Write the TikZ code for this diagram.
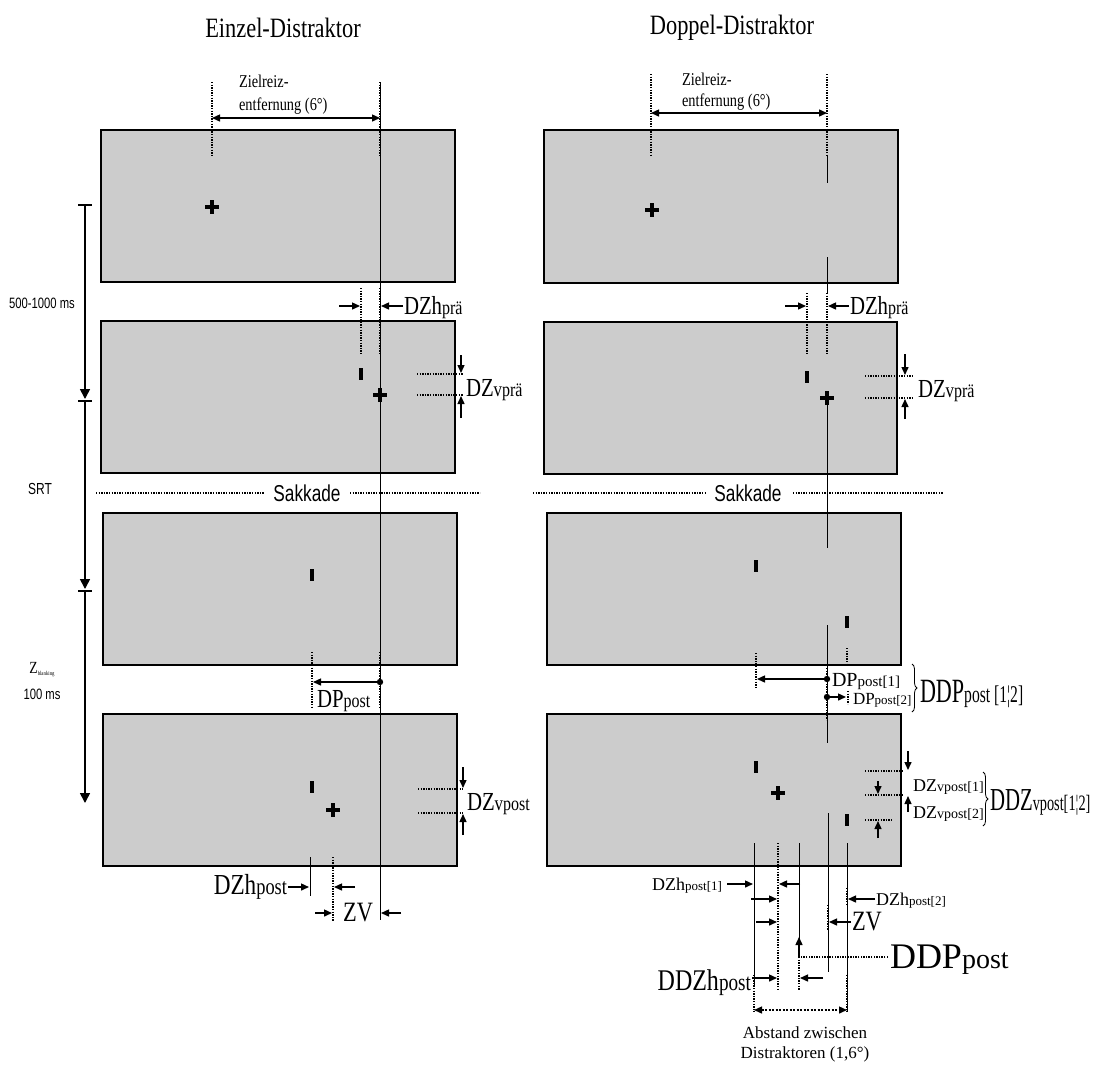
\documentclass[tikz,border=0pt]{standalone}
\usepackage{fontspec}
\setmainfont{Liberation Serif}
\newfontfamily\cs[FakeStretch=0.8]{Liberation Serif}
\newfontfamily\csn[FakeStretch=0.65]{Liberation Serif}
\newfontfamily\ssf[FakeStretch=0.75]{Liberation Sans}
\usetikzlibrary{arrows.meta,decorations.pathreplacing}
\definecolor{boxgray}{gray}{0.8}
\newcommand\fsz[1]{\fontsize{#1}{#1}\selectfont}
\newcommand\mycross[2]{\fill (#1,#2) ++(-7,-2.2) rectangle ++(14,4.4); \fill (#1,#2) ++(-2.2,-7) rectangle ++(4.4,14);}
\newcommand\mydist[2]{\fill (#1,#2) ++(-2.3,-6.2) rectangle ++(4.6,12.4);}
\begin{document}
\begin{tikzpicture}[x=1pt,y=-1pt,
  box/.style={draw=black,line width=2pt,fill=boxgray},
  thinl/.style={line width=0.8pt},
  dots/.style={line width=1.7pt,dash pattern=on 1.4pt off 1.2pt},
  arr/.style={line width=1.4pt,-{Triangle[length=8pt,width=7pt]}},
  darr/.style={line width=1.4pt,{Triangle[length=8pt,width=7pt]}-{Triangle[length=8pt,width=7pt]}},
  tarr/.style={line width=1.6pt,-{Triangle[length=10pt,width=10pt]}},
  lbl/.style={inner sep=0pt,outer sep=0pt},
  brc/.style={decorate,decoration={brace,amplitude=5pt},line width=0.8pt}]
\useasboundingbox (0,0) rectangle (1098,1077);
\fill[white] (0,0) rectangle (1098,1077);

% titles
\node[lbl] (tL) at (283,28) {\cs\fsz{28}Einzel-Distraktor};
\node[lbl] (tR) at (732,28) {\cs\fsz{28}Doppel-Distraktor};

% boxes
\draw[box] (101,130) rectangle (455,282);
\draw[box] (101,321) rectangle (455,473);
\draw[box] (103,513) rectangle (457,665);
\draw[box] (103,714) rectangle (457,866);
\draw[box] (544,130) rectangle (898,283);
\draw[box] (544,322) rectangle (897,474);
\draw[box] (547,513) rectangle (901,665);
\draw[box] (547,714) rectangle (901,866);

% timeline
\draw[line width=1.6pt] (78,205) -- (92,205);
\draw[tarr] (85,205) -- (85,399);
\draw[line width=1.6pt] (78,401) -- (92,401);
\draw[tarr] (85,401) -- (85,589);
\draw[line width=1.6pt] (78,591) -- (92,591);
\draw[tarr] (85,591) -- (85,803);
\node[lbl] (t1) at (42,303) {\ssf\fsz{15}500-1000 ms};
\node[lbl] (t2) at (40,489) {\ssf\fsz{16}SRT};
\node[lbl] (t3) at (42,670) {\cs\fsz{17}Z\raisebox{-2pt}{\fsz{6}blanking}};
\node[lbl] (t4) at (42,694) {\ssf\fsz{15}100 ms};

% ===== left column =====
\draw[thinl] (380,82) -- (380,920);
\draw[dots] (212,82) -- (212,157);
\draw[dots] (380,82) -- (380,157);
\draw[darr] (212,118) -- (380,118);
\node[lbl,anchor=base west] (zl1) at (239,87) {\cs\fsz{18}Zielreiz-};
\node[lbl,anchor=base west] (zl2) at (239,110) {\cs\fsz{18}entfernung (6°)};
\mycross{212}{207}

% DZh pre
\draw[dots] (361,288) -- (361,355);
\draw[dots] (380,288) -- (380,355);
\draw[arr] (339,306) -- (360,306);
\draw[arr] (403,306) -- (381,306);
\node[lbl,anchor=base west] (dzhL) at (404,314) {\cs\fsz{26}DZh\fsz{20}prä};
\mydist{361}{374}
\mycross{380}{395}
% DZv pre
\draw[dots] (417,374) -- (463,374);
\draw[dots] (417,395) -- (463,395);
\draw[arr] (461,355) -- (461,373);
\draw[arr] (461,418) -- (461,396);
\node[lbl,anchor=base west] (dzvL) at (466,396) {\cs\fsz{26}DZ\fsz{21}v\fsz{20}prä};

% Sakkade
\draw[dots,line width=1.3pt] (96,493) -- (264,493);
\node[lbl] (sakL) at (307,493) {\ssf\fsz{23}Sakkade};
\draw[dots,line width=1.3pt] (350,493) -- (480,493);

% L3
\mydist{312}{575}
\draw[dots] (312,652) -- (312,708);
\draw[dots] (380,652) -- (380,708);
\fill (380,682) circle (3.2);
\draw[arr] (380,682) -- (313,682);
\node[lbl,anchor=base west] (dpL) at (317,707) {\cs\fsz{26}DP\fsz{20}post};

% L4
\mydist{312}{787}
\mycross{333}{810}
\draw[dots] (418,789) -- (463,789);
\draw[dots] (418,813) -- (463,813);
\draw[arr] (463,767) -- (463,788);
\draw[arr] (463,835) -- (463,814);
\node[lbl,anchor=base west] (dzvpL) at (467,810) {\cs\fsz{26}DZ\fsz{21}v\fsz{20}post};

% below L4
\draw[thinl] (310,857) -- (310,896);
\draw[dots] (333,857) -- (333,921);
\draw[arr] (288,887) -- (309,887);
\draw[arr] (355,887) -- (334,887);
\node[lbl,anchor=base east] (dzhpL) at (287,894) {\cs\fsz{29}DZh\fsz{23}post};
\draw[arr] (315,913) -- (332,913);
\node[lbl] (zvL) at (358,913) {\cs\fsz{28}ZV};
\draw[arr] (401,913) -- (381,913);

% ===== right column =====
\mycross{652}{210}
\draw[dots] (651,74) -- (651,155);
\draw[dots] (827,74) -- (827,155);
\draw[thinl] (827,155) -- (827,183);
\draw[darr] (651,113) -- (827,113);
\node[lbl,anchor=base west] (zr1) at (682,85) {\cs\fsz{18}Zielreiz-};
\node[lbl,anchor=base west] (zr2) at (682,106) {\cs\fsz{18}entfernung (6°)};
\draw[thinl] (827,257) -- (827,293);

% DZh pre right
\draw[dots] (807,293) -- (807,355);
\draw[dots] (827,293) -- (827,355);
\draw[arr] (785,306) -- (806,306);
\draw[arr] (849,306) -- (828,306);
\node[lbl,anchor=base west] (dzhR) at (850,314) {\cs\fsz{26}DZh\fsz{20}prä};
\mydist{807}{377}
\mycross{827}{398}
\draw[dots] (865,376) -- (913,376);
\draw[dots] (865,398) -- (913,398);
\draw[arr] (905,354) -- (905,375);
\draw[arr] (905,419) -- (905,399);
\node[lbl,anchor=base west] (dzvR) at (918,397) {\cs\fsz{26}DZ\fsz{21}v\fsz{20}prä};
\draw[thinl] (827,398) -- (827,548);

% Sakkade right
\draw[dots,line width=1.3pt] (533,493) -- (707,493);
\node[lbl] (sakR) at (748,493) {\ssf\fsz{23}Sakkade};
\draw[dots,line width=1.3pt] (793,493) -- (943,493);

% R3
\mydist{756}{566}
\mydist{847}{622}
\draw[thinl] (827,625) -- (827,743);
\draw[dots] (756,653) -- (756,688);
\draw[dots] (847,648) -- (847,665);
\draw[dots] (827,668) -- (827,720);
\draw[dots] (848,691) -- (848,704);
\fill (827,679) circle (3.2);
\draw[arr] (827,679) -- (757,679);
\fill (827,697) circle (3.2);
\draw[arr] (827,697) -- (846,697);
\node[lbl,anchor=base west] (dp1) at (832,686) {\fsz{20}DP\fsz{15}post[1]};
\node[lbl,anchor=base west] (dp2) at (853,704) {\fsz{17}DP\fsz{13}post[2]};
\draw[brc] (912,664) -- (912,712);
\node[lbl,anchor=base west] (ddp) at (920,702) {\csn\fsz{34}DDP\fsz{24}post [1¦2]};

% R4
\mydist{756}{767}
\mydist{847}{820}
\mycross{778}{793}
\draw[dots] (865,771) -- (903,771);
\draw[dots] (865,795) -- (903,795);
\draw[dots] (865,820) -- (893,820);
\draw[arr] (908,751) -- (908,770);
\draw[arr] (878,781) -- (878,794);
\draw[arr] (908,812) -- (908,796);
\draw[arr] (878,838) -- (878,821);
\node[lbl,anchor=base west] (dzv1) at (913,791) {\fsz{18}DZ\fsz{14}vpost[1]};
\node[lbl,anchor=base west] (dzv2) at (913,818) {\fsz{18}DZ\fsz{14}vpost[2]};
\draw[brc] (983,772) -- (983,826);
\node[lbl,anchor=base west] (ddzv) at (990,810) {\csn\fsz{32}DDZ\fsz{22}vpost[1¦2]};

% below R4
\draw[thinl] (754,843) -- (754,985);
\draw[dots] (754,975) -- (754,1012);
\draw[dots] (778,843) -- (778,990);
\draw[thinl] (799,843) -- (799,940);
\draw[dots] (799,957) -- (799,990);
\draw[thinl] (828,813) -- (828,972);
\draw[dots] (828,905) -- (828,930);
\draw[thinl] (847,843) -- (847,1012);
\draw[dots] (847,888) -- (847,905);
\draw[dots] (847,975) -- (847,1012);

\node[lbl,anchor=base east] (dzhp1) at (722,890) {\fsz{18}DZh\fsz{13}post[1]};
\draw[arr] (727,884) -- (753,884);
\draw[arr] (800,884) -- (779,884);
\draw[arr] (751,899) -- (777,899);
\draw[arr] (875,899) -- (848,899);
\node[lbl,anchor=base west] (dzhp2) at (876,905) {\fsz{18}DZh\fsz{13}post[2]};
\draw[arr] (756,922) -- (777,922);
\draw[arr] (851,922) -- (829,922);
\node[lbl,anchor=west] (zvR) at (852,922) {\cs\fsz{28}ZV};
\draw[arr] (799,958) -- (799,937);
\draw[dots] (888,957) -- (799,957);
\node[lbl,anchor=base west] (ddpp) at (890,968) {\fsz{36}DDP\fsz{28}post};
\node[lbl,anchor=base east] (ddzh) at (751,990) {\cs\fsz{30}DDZh\fsz{24}post};
\draw[arr] (752,978) -- (777,978);
\draw[arr] (823,978) -- (800,978);
\draw[line width=1.4pt,dash pattern=on 2pt off 1.5pt,{Triangle[length=8pt,width=7pt]}-{Triangle[length=8pt,width=7pt]}] (754,1010) -- (847,1010);
\node[lbl] (abs1) at (805,1033) {\fsz{17}Abstand zwischen};
\node[lbl] (abs2) at (805,1054) {\fsz{17}Distraktoren (1,6°)};
\end{tikzpicture}
\end{document}
